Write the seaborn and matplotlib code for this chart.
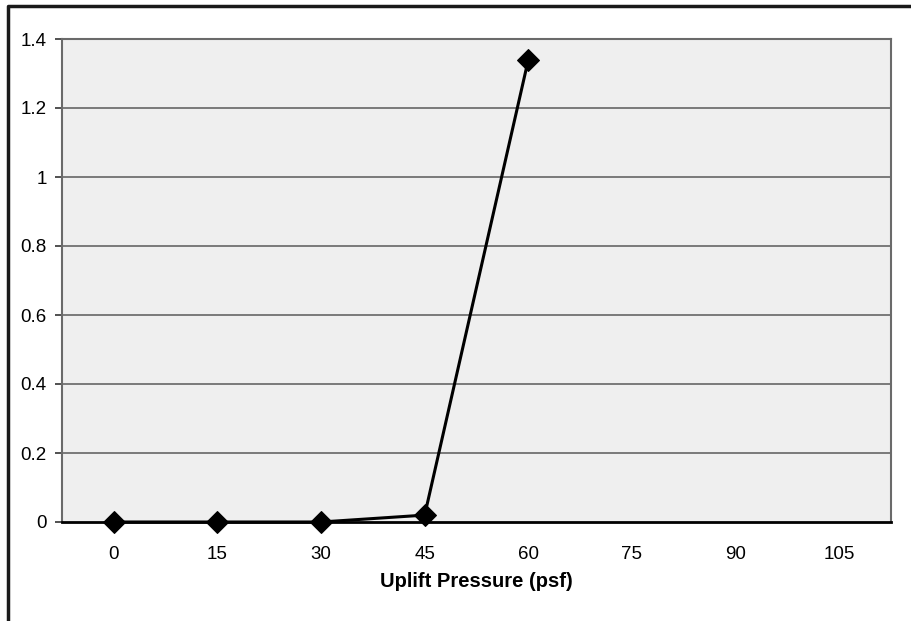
import numpy as np
import pandas as pd
import matplotlib
matplotlib.use("Agg")
import matplotlib.pyplot as plt
import seaborn as sns
from matplotlib.lines import Line2D

categories = ["0", "15", "30", "45", "60", "75", "90", "105"]
values = [0.0, 0.0, 0.0, 0.02, 1.34, np.nan, np.nan, np.nan]
y_ticks = [0, 0.2, 0.4, 0.6, 0.8, 1.0, 1.2, 1.4]
y_tick_labels = ["0", "0.2", "0.4", "0.6", "0.8", "1", "1.2", "1.4"]
x_label = "Uplift Pressure (psf)"

sns.set_theme(style="white")
plt.rcParams["font.family"] = ["Liberation Sans", "DejaVu Sans"]
plt.rcParams["text.color"] = "black"
plt.rcParams["axes.labelcolor"] = "black"
plt.rcParams["xtick.color"] = "black"
plt.rcParams["ytick.color"] = "black"

df = pd.DataFrame({"pos": np.arange(len(categories)), "value": values})

fig = plt.figure(figsize=(9.11, 6.21), dpi=100)
fig.patch.set_facecolor("white")
ax = fig.add_axes([62 / 911, 99 / 621, 829 / 911, 483 / 621])
ax.set_facecolor("#efefef")

sns.lineplot(data=df, x="pos", y="value", ax=ax, color="black", linewidth=2.2,
             marker="D", markersize=11, markeredgecolor="black",
             markerfacecolor="black", zorder=5, clip_on=False)

ax.set_xlim(-0.5, len(categories) - 0.5)
ax.set_ylim(0, 1.4)
ax.set_yticks(y_ticks)
ax.set_yticklabels(y_tick_labels)
for t in y_ticks[1:-1]:
    ax.axhline(t, color="#707070", linewidth=1.3, zorder=1)

# category labels at centers (no ticks), tick marks between categories
ax.set_xticks(np.arange(len(categories)))
ax.set_xticklabels(categories)
ax.tick_params(axis="x", length=0, pad=17, labelsize=13.5, labelcolor="black")
ax.set_xticks(np.arange(len(categories) + 1) - 0.5, minor=True)
ax.tick_params(axis="x", which="minor", length=6, width=1.2, color="black", direction="out")
ax.tick_params(axis="y", length=5, width=1.2, color="#333333", direction="out",
               labelsize=13.5, labelcolor="black", pad=6, left=True)

for side in ["top", "right", "left"]:
    ax.spines[side].set_color("#6a6a6a")
    ax.spines[side].set_linewidth(1.5)
    ax.spines[side].set_visible(True)
ax.spines["bottom"].set_color("black")
ax.spines["bottom"].set_linewidth(2)
ax.spines["bottom"].set_zorder(4)

ax.set_xlabel(x_label, fontsize=14.5, fontweight="bold", labelpad=7, color="black")
ax.set_ylabel("")

# outer frame (left and top)
fig.add_artist(Line2D([7.5 / 911, 7.5 / 911, 1.0], [0, 1 - 6 / 621, 1 - 6 / 621],
                      transform=fig.transFigure, color="#1a1a1a", linewidth=2.5))

fig.savefig("out.png", dpi=100)
